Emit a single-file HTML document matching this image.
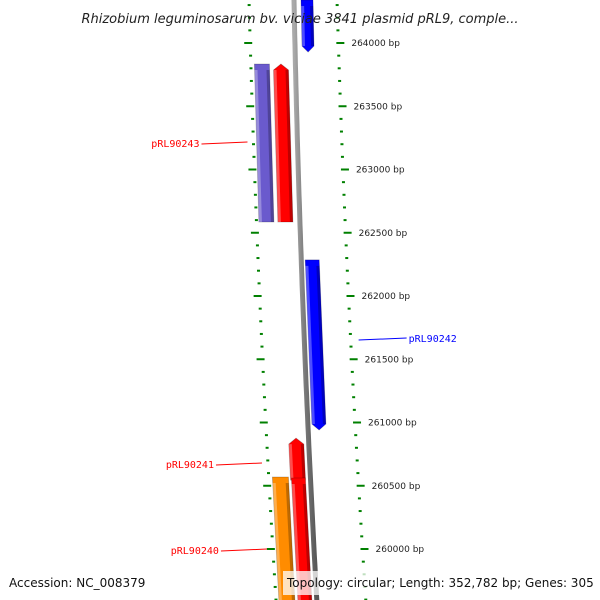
<!DOCTYPE html>
<html><head><meta charset="utf-8"><style>
body{margin:0;background:#fff;}
svg{display:block;font-family:"DejaVu Sans","Liberation Sans",sans-serif;}
</style></head><body>
<svg id="map" width="600" height="600" viewBox="0 0 600 600">
<defs>
<linearGradient id="gGray" x1="0" x2="1"><stop offset="0" stop-color="#aaa"/><stop offset="0.5" stop-color="#777"/><stop offset="1" stop-color="#555"/></linearGradient>
</defs>
<g id="ticks"></g>
<g id="features"></g>
<g id="labels"></g>
<text x="300" y="23" text-anchor="middle" font-size="13" font-style="italic" fill="#222">Rhizobium leguminosarum bv. viciae 3841 plasmid pRL9, comple...</text>
<text x="9" y="587" font-size="12" fill="#111">Accession: NC_008379</text>
<rect x="283" y="571" width="309" height="24" fill="#fff" fill-opacity="0.75"/>
<text x="287" y="587" font-size="12" fill="#111">Topology: circular; Length: 352,782 bp; Genes: 305</text>
</svg>
<script>
const tickMajorBp=[264000,263500,263000,262500,262000,261500,261000,260500,260000];
const tickLabels=["264000 bp","263500 bp","263000 bp","262500 bp","262000 bp","261500 bp","261000 bp","260500 bp","260000 bp"];
const featNames=["blue-top","purple","red-top","blue-mid","red-small","red-long","orange"];
const featStart=[264340,263834,263834,262285,260877,260561,260569];
const featEnd=[263929,262585,262585,260941,260545,259500,259500];
const featColor=["#0000ff","#6a5acd","#ff0000","#0000ff","#ff0000","#ff0000","#ff8c00"];
const featOffL=[7,-41,-22,4,-20,-19,-38];
const featOffR=[19,-26,-7,18,-5,-5,-22];
const featArrow=["down","none","up","down","up","none","none"];
const geneLabels=["pRL90243","pRL90242","pRL90241","pRL90240"];
const geneLabelBp=[263209,261660,260672,259992];
const geneLabelColor=["#ff0000","#0000ff","#ff0000","#ff0000"];
const geneLabelSide=["left","right","left","left"];

const NS="http://www.w3.org/2000/svg";
function yOf(bp){return 43+(264000-bp)*0.1265;}
function bbX(y){return 294+0.02*y+0.00003*y*y;}
function leftX(y){return bbX(y)-45+0.007*y;}
function rightX(y){return bbX(y)+43+0.01*y;}
function mk(tag,attrs,parent){const e=document.createElementNS(NS,tag);for(const k in attrs)e.setAttribute(k,attrs[k]);parent.appendChild(e);return e;}

const ticks=document.getElementById('ticks');
const feats=document.getElementById('features');
const labs=document.getElementById('labels');

let pts=[];for(let y=-5;y<=605;y+=10)pts.push(bbX(y).toFixed(1)+","+y);
const bb=mk('polyline',{points:pts.join(' '),fill:'none',stroke:'url(#gGray)','stroke-width':5},feats);



for(let bp=259400;bp<=264400;bp+=100){
  const y=yOf(bp);if(y<-5||y>605)continue;
  const major=bp%500===0;
  const lx=leftX(y),rx=rightX(y);
  const len=major?8:3;
  const t1=mk('line',{x1:lx-len/2-(major?2:0),y1:y,x2:lx+len/2-(major?2:0),y2:y,stroke:'#008000','stroke-width':2},ticks);
  
  
  const t2=mk('line',{x1:rx-len/2+(major?2:0),y1:y,x2:rx+len/2+(major?2:0),y2:y,stroke:'#008000','stroke-width':2},ticks);
  
  
}
tickMajorBp.forEach((bp,i)=>{
  const y=yOf(bp);
  const t=mk('text',{x:rightX(y)+13,y:y+3,'font-size':9,fill:'#222'},labs);
  t.textContent=tickLabels[i];
  
  
});

featNames.forEach((n,i)=>{
  const y1=Math.max(yOf(featStart[i]),-10),y2=Math.min(yOf(featEnd[i]),610);
  const L=y=>bbX(y)+featOffL[i],R=y=>bbX(y)+featOffR[i];
  let p=[];
  const tip=6;
  if(featArrow[i]==='up'){
    p.push([(L(y1)+R(y1))/2,y1],[R(y1+tip),y1+tip],[R(y2),y2],[L(y2),y2],[L(y1+tip),y1+tip]);
  }else if(featArrow[i]==='down'){
    p.push([L(y1),y1],[R(y1),y1],[R(y2-tip),y2-tip],[(L(y2)+R(y2))/2,y2],[L(y2-tip),y2-tip]);
  }else{
    p.push([L(y1),y1],[R(y1),y1],[R(y2),y2],[L(y2),y2]);
  }
  const g=mk('polygon',{points:p.map(q=>q[0].toFixed(1)+","+q[1].toFixed(1)).join(' '),fill:featColor[i],stroke:'rgba(0,0,0,0.25)','stroke-width':0.8},feats);
  
  
  const yb=y2-(featArrow[i]==='down'?tip:0);
  const sh=mk('polygon',{points:[[R(y1+tip)-3,y1+tip],[R(y1+tip),y1+tip],[R(yb),yb],[R(yb)-3,yb]].map(q=>q[0].toFixed(1)+","+q[1].toFixed(1)).join(' '),fill:'rgba(0,0,0,0.25)'},feats);
  
  
  const hl=mk('polygon',{points:[[L(y1+tip),y1+tip],[L(y1+tip)+3,y1+tip],[L(yb)+3,yb],[L(yb),yb]].map(q=>q[0].toFixed(1)+","+q[1].toFixed(1)).join(' '),fill:'rgba(255,255,255,0.3)'},feats);
  
  
});

geneLabels.forEach((lab,i)=>{
  const y=yOf(geneLabelBp[i]);
  if(geneLabelSide[i]==='left'){
    const xe=leftX(y)-6;
    const ln=mk('line',{x1:xe-46,y1:y+1,x2:xe,y2:y-1,stroke:geneLabelColor[i],'stroke-width':1},labs);
    
    
    const t=mk('text',{x:xe-48,y:y+4,'font-size':10,fill:geneLabelColor[i],'text-anchor':'end','font-family':'DejaVu Sans Mono, Liberation Mono, monospace'},labs);
    t.textContent=lab;
    
    
  }else{
    const xs=rightX(y)+8;
    const ln=mk('line',{x1:xs,y1:y+1,x2:xs+48,y2:y-1,stroke:geneLabelColor[i],'stroke-width':1},labs);
    
    
    const t=mk('text',{x:xs+50,y:y+3,'font-size':10,fill:geneLabelColor[i],'font-family':'DejaVu Sans Mono, Liberation Mono, monospace'},labs);
    t.textContent=lab;
    
    
  }
});
</script>
</body></html>
